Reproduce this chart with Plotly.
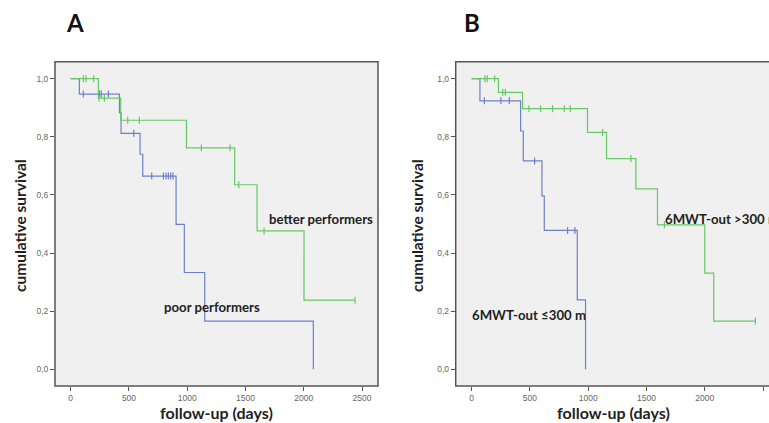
import plotly.graph_objects as go

# ---------------- data ----------------
# Panel A : better vs poor performers
a_better_t = [0, 237, 429, 993, 1407, 1599, 2002, 2440]
a_better_s = [1.0, 0.933, 0.857, 0.762, 0.635, 0.476, 0.238, 0.238]
a_better_cens_t = [109, 132, 197, 242, 289, 489, 589, 1121, 1367, 1442, 1659, 2440]

a_poor_t = [0, 74, 418, 432, 595, 618, 904, 975, 1150, 2082]
a_poor_s = [1.0, 0.947, 0.883, 0.812, 0.740, 0.665, 0.499, 0.333, 0.166, 0.0]
a_poor_cens_t = [108, 246, 262, 323, 541, 695, 795, 818, 838, 858, 878]

# Panel B : 6MWT-out >300 m vs <=300 m
b_high_t = [0, 229, 437, 994, 1157, 1409, 1594, 2000, 2077, 2434]
b_high_s = [1.0, 0.953, 0.897, 0.815, 0.725, 0.621, 0.497, 0.331, 0.166, 0.166]
b_high_cens_t = [114, 134, 197, 266, 289, 491, 591, 694, 794, 846, 1123, 1366, 1654, 2434]

b_low_t = [0, 71, 420, 443, 603, 623, 906, 977]
b_low_s = [1.0, 0.924, 0.820, 0.717, 0.597, 0.478, 0.239, 0.0]
b_low_cens_t = [109, 251, 323, 540, 823, 886]

y_tickvals = [0.0, 0.2, 0.4, 0.6, 0.8, 1.0]
y_ticktext = ["0,0", "0,2", "0,4", "0,6", "0,8", "1,0"]
x_tickvals = [0, 500, 1000, 1500, 2000, 2500]
x_ticktext = ["0", "500", "1000", "1500", "2000", "2500"]

GREEN = "#66c966"
BLUE = "#6e80c8"
W, H = 769, 423


def px(x):
    return x / W


def py(y):
    return 1 - y / H


def level_at(times, surv, t):
    s = surv[0]
    for ti, si in zip(times, surv):
        if ti <= t:
            s = si
    return s


fig = go.Figure()


def add_curve(t, s, cens, color, xa, ya):
    fig.add_trace(go.Scatter(x=t, y=s, mode="lines", line=dict(color=color, width=1.2, shape="hv"),
                             xaxis=xa, yaxis=ya, showlegend=False, hoverinfo="skip"))
    fig.add_trace(go.Scatter(x=cens, y=[level_at(t, s, c) for c in cens], mode="markers",
                             marker=dict(symbol="line-ns-open", size=5, color=color,
                                         line=dict(color=color, width=1.2)),
                             xaxis=xa, yaxis=ya, showlegend=False, hoverinfo="skip"))


add_curve(a_poor_t, a_poor_s, a_poor_cens_t, BLUE, "x", "y")
add_curve(a_better_t, a_better_s, a_better_cens_t, GREEN, "x", "y")
add_curve(b_low_t, b_low_s, b_low_cens_t, BLUE, "x2", "y2")
add_curve(b_high_t, b_high_s, b_high_cens_t, GREEN, "x2", "y2")

ydom = [py(386), py(61.7)]
axis_common = dict(ticks="outside", ticklen=4, tickwidth=1, tickcolor="#555555",
                   tickfont=dict(family="Liberation Sans, Arial", size=8.5, color="#666666"),
                   showgrid=False, zeroline=False, showline=False)

fig.update_layout(
    width=W, height=H, margin=dict(l=0, r=0, t=0, b=0),
    paper_bgcolor="white", plot_bgcolor="#f0f0f0",
    xaxis=dict(domain=[px(55), px(378)], range=[-135, 2637], tickvals=x_tickvals, ticktext=x_ticktext,
               anchor="y", **axis_common),
    yaxis=dict(domain=ydom, range=[-0.0575, 1.0585], tickvals=y_tickvals, ticktext=y_ticktext,
               anchor="x", **axis_common),
    xaxis2=dict(domain=[px(455.7), 1.0], range=[-137, 2551], tickvals=x_tickvals, ticktext=x_ticktext,
                anchor="y2", **axis_common),
    yaxis2=dict(domain=ydom, range=[-0.0575, 1.0585], tickvals=y_tickvals, ticktext=y_ticktext,
                anchor="x2", **axis_common),
)

# frames
fig.add_shape(type="rect", xref="paper", yref="paper", x0=px(55), x1=px(378), y0=ydom[0], y1=ydom[1],
              line=dict(color="#555555", width=1.5))
fig.add_shape(type="rect", xref="paper", yref="paper", x0=px(455.7), x1=1.05, y0=ydom[0], y1=ydom[1],
              line=dict(color="#555555", width=1.5))

TF = "Lato, Open Sans, sans-serif"


def ann(text, x, y, size, xanchor="center", angle=0, color="#222222"):
    fig.add_annotation(text=text, x=px(x), y=py(y), xref="paper", yref="paper", showarrow=False,
                       xanchor=xanchor, yanchor="middle", textangle=angle,
                       font=dict(family=TF, size=size, color=color))


ann("<b>A</b>", 75, 23, 24, color="#111111")
ann("<b>B</b>", 472, 23, 24, color="#111111")
ann("<b>follow-up (days)</b>", 216.5, 412, 16)
ann("<b>follow-up (days)</b>", 613, 412, 16)
ann("<b>cumulative survival</b>", 20, 226, 15.5, angle=-90)
ann("<b>cumulative survival</b>", 417, 226, 15.5, angle=-90)
ann("<b>better performers</b>", 267, 219, 13.2, xanchor="left")
ann("<b>poor performers</b>", 162, 307, 13.2, xanchor="left")
ann("<b>6MWT-out &gt;300 m</b>", 663, 219, 13.2, xanchor="left")
ann("<b>6MWT-out ≤300 m</b>", 470, 315, 13.2, xanchor="left")

fig.write_html("out.html", config={"displayModeBar": False},
               post_script="document.body.style.margin='0';document.body.style.overflow='hidden';")
